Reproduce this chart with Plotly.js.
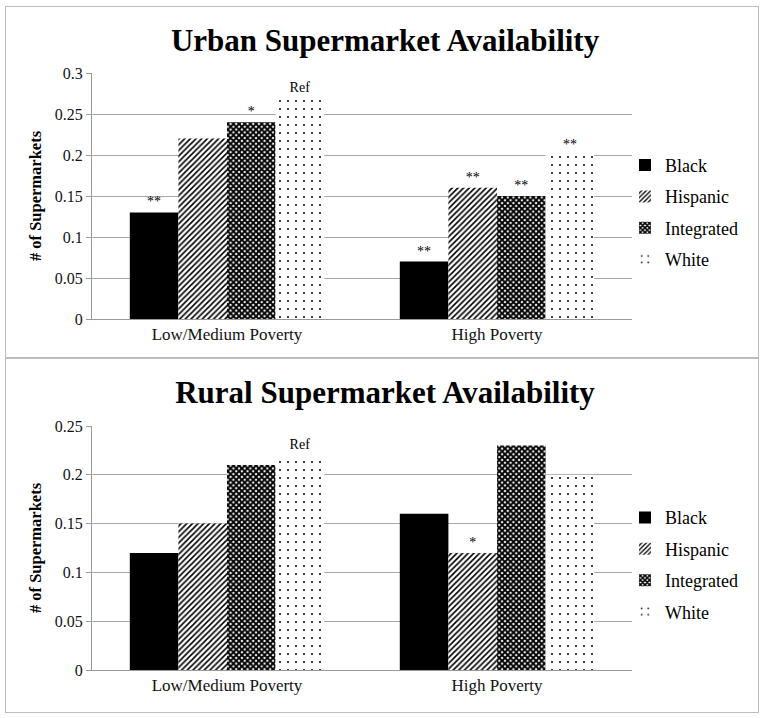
<!DOCTYPE html>
<html><head><meta charset="utf-8">
<script src="https://cdn.plot.ly/plotly-3.0.1.min.js"></script>
<style>
body{margin:0;background:#fff;}
#wrap{position:relative;width:764px;height:718px;}
#urban{position:absolute;left:0;top:0;width:764px;height:359px;}
#rural{position:absolute;left:0;top:359px;width:764px;height:359px;}
.box{position:absolute;border:1px solid #bdbdbd;pointer-events:none;}
</style></head>
<body><div id="wrap">
<div id="urban"></div><div id="rural"></div>
<div class="box" style="left:5px;top:6px;width:752px;height:351px;"></div>
<div class="box" style="left:5px;top:357px;width:752px;height:354px;"></div>
</div>
<script>
const categories = ['Low/Medium Poverty', 'High Poverty'];
const groups = ['Black', 'Hispanic', 'Integrated', 'White'];

const urbanBlack = [0.13, 0.07];
const urbanHispanic = [0.22, 0.16];
const urbanIntegrated = [0.24, 0.15];
const urbanWhite = [0.27, 0.20];
const urbanBlackLabels = ['**', '**'];
const urbanHispanicLabels = ['', '**'];
const urbanIntegratedLabels = ['*', '**'];
const urbanWhiteLabels = ['Ref', '**'];

const ruralBlack = [0.12, 0.16];
const ruralHispanic = [0.15, 0.12];
const ruralIntegrated = [0.21, 0.23];
const ruralWhite = [0.22, 0.20];
const ruralBlackLabels = ['', ''];
const ruralHispanicLabels = ['', '*'];
const ruralIntegratedLabels = ['', ''];
const ruralWhiteLabels = ['Ref', ''];

const FONT = 'Liberation Serif, DejaVu Serif, serif';
const styles = {
  Black: {color:'#000000', line:{width:0}},
  Hispanic: {color:'#000000', pattern:{shape:'/', fgcolor:'#000000', bgcolor:'#ffffff', size:4, solidity:0.4}, line:{width:0}},
  Integrated: {color:'#000000', pattern:{shape:'x', fgcolor:'#000000', bgcolor:'#ffffff', size:4, solidity:0.72}, line:{width:0}},
  White: {color:'#000000', pattern:{shape:'.', fgcolor:'#000000', bgcolor:'#ffffff', size:8, solidity:0.05}, line:{width:0}}
};

function makeTraces(vals, labels){
  return groups.map((g,i)=>({
    type:'bar', name:g, x:categories, y:vals[i], text:labels[i],
    textposition:'outside', cliponaxis:false,
    textfont:{family:FONT, size:14, color:'#000'},
    outsidetextfont:{family:FONT, size:14, color:'#000'},
    marker:styles[g], legendgroup:g, hoverinfo:'skip'
  }));
}

function makeLayout(title, titleY, ymax, top, bottom){
  return {
    width:764, height:359,
    margin:{l:92, r:132, t:top, b:bottom},
    paper_bgcolor:'#fff', plot_bgcolor:'#fff',
    font:{family:FONT, size:16, color:'#000'},
    title:{text:'<b>'+title+'</b>', font:{family:FONT, size:31, color:'#000'},
      x:0.504, xref:'container', xanchor:'center', y:titleY, yref:'container', yanchor:'middle'},
    barmode:'group', bargap:0.28, bargroupgap:0,
    xaxis:{showline:true, linecolor:'#999', linewidth:1, ticks:'', tickfont:{family:FONT, size:17, color:'#111'}, fixedrange:true},
    yaxis:{range:[0, ymax], dtick:0.05, showgrid:true, gridcolor:'#a6a6a6', gridwidth:1,
      showline:true, linecolor:'#999', linewidth:1, ticks:'outside', ticklen:5, tickcolor:'#999',
      zeroline:false, tickfont:{family:FONT, size:16, color:'#111'},
      title:{text:'<b># of Supermarkets</b>', font:{family:FONT, size:16.5}, standoff:9}},
    legend:{x:0.987, xanchor:'left', y:0.70, yanchor:'top', traceorder:'grouped', tracegroupgap:5,
      font:{family:FONT, size:18}, itemwidth:30, bgcolor:'rgba(0,0,0,0)'},
    showlegend:true
  };
}

Plotly.newPlot('urban',
  makeTraces([urbanBlack, urbanHispanic, urbanIntegrated, urbanWhite],
             [urbanBlackLabels, urbanHispanicLabels, urbanIntegratedLabels, urbanWhiteLabels]),
  makeLayout('Urban Supermarket Availability', 0.889, 0.3, 73, 40), {displayModeBar:false, staticPlot:true});

Plotly.newPlot('rural',
  makeTraces([ruralBlack, ruralHispanic, ruralIntegrated, ruralWhite],
             [ruralBlackLabels, ruralHispanicLabels, ruralIntegratedLabels, ruralWhiteLabels]),
  makeLayout('Rural Supermarket Availability', 0.908, 0.25, 67, 48), {displayModeBar:false, staticPlot:true});
</script></body></html>
